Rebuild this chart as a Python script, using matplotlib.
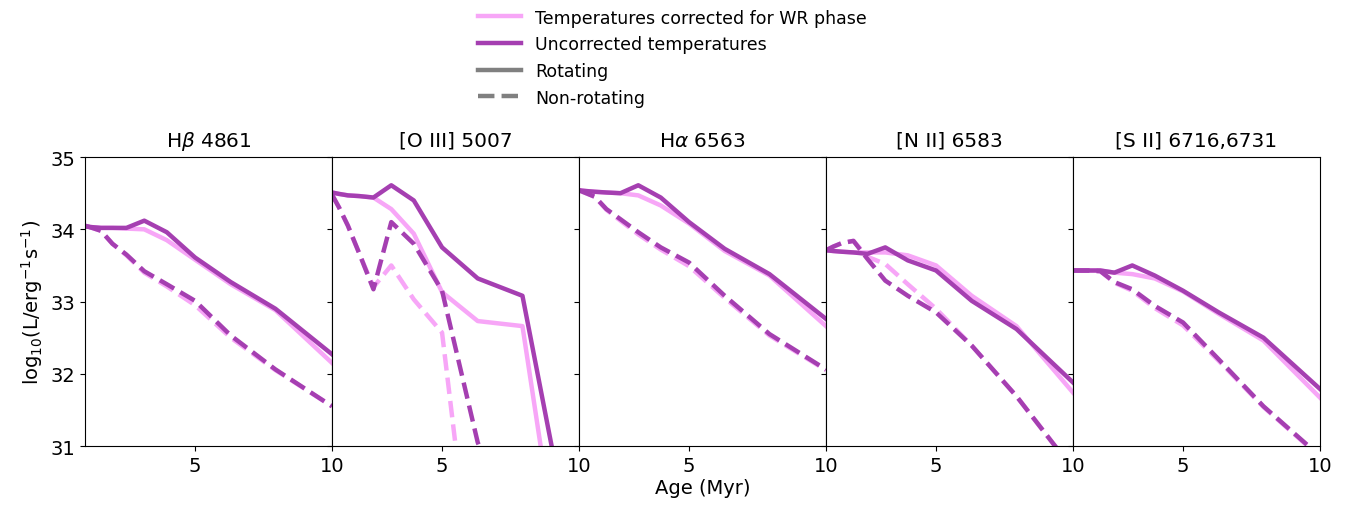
import matplotlib
matplotlib.use('Agg')
import matplotlib.pyplot as plt
from matplotlib.lines import Line2D

# ages (Myr)
ages = [1.0, 1.26, 1.58, 2.0, 2.51, 3.16, 3.98, 5.01, 6.31, 7.94, 10.0]

line_names = [r'H$\beta$ 4861', '[O III] 5007', r'H$\alpha$ 6563',
              '[N II] 6583', '[S II] 6716,6731']

# rotating, uncorrected
rot_unc = [
    [34.04, 34.03, 34.02, 34.02, 34.02, 34.12, 33.96, 33.61, 33.27, 32.90, 32.27],
    [34.51, 34.49, 34.47, 34.46, 34.44, 34.61, 34.40, 33.75, 33.32, 33.08, 29.05],
    [34.54, 34.53, 34.52, 34.51, 34.50, 34.61, 34.44, 34.10, 33.73, 33.38, 32.76],
    [33.71, 33.70, 33.69, 33.68, 33.66, 33.75, 33.57, 33.43, 33.01, 32.62, 31.88],
    [33.43, 33.43, 33.43, 33.43, 33.40, 33.50, 33.36, 33.15, 32.85, 32.50, 31.79],
]
# rotating, corrected for WR phase
rot_cor = [
    [34.04, 34.03, 34.02, 34.02, 34.01, 34.00, 33.85, 33.58, 33.24, 32.88, 32.15],
    [34.51, 34.49, 34.47, 34.46, 34.44, 34.28, 33.94, 33.13, 32.73, 32.66, 27.50],
    [34.54, 34.53, 34.52, 34.51, 34.50, 34.47, 34.33, 34.08, 33.70, 33.36, 32.66],
    [33.71, 33.70, 33.69, 33.68, 33.68, 33.68, 33.64, 33.50, 33.08, 32.66, 31.74],
    [33.43, 33.43, 33.43, 33.43, 33.40, 33.38, 33.32, 33.14, 32.83, 32.46, 31.67],
]
# non-rotating, uncorrected
nrot_unc = [
    [34.05, 34.02, 33.98, 33.80, 33.65, 33.42, 33.24, 33.01, 32.53, 32.06, 31.55],
    [34.48, 34.30, 34.05, 33.66, 33.17, 34.10, 33.80, 33.15, 31.05, 29.50, 28.50],
    [34.54, 34.50, 34.45, 34.28, 34.14, 33.96, 33.75, 33.54, 33.08, 32.55, 32.06],
    [33.71, 33.76, 33.81, 33.84, 33.59, 33.29, 33.08, 32.85, 32.39, 31.69, 30.68],
    [33.43, 33.43, 33.43, 33.42, 33.27, 33.17, 32.94, 32.71, 32.20, 31.55, 30.86],
]
# non-rotating, corrected for WR phase
nrot_cor = [
    [34.05, 34.02, 33.98, 33.80, 33.64, 33.40, 33.21, 32.95, 32.50, 32.05, 31.55],
    [34.48, 34.30, 34.05, 33.66, 33.20, 33.50, 33.03, 32.57, 28.45, 27.50, 27.00],
    [34.54, 34.50, 34.45, 34.27, 34.12, 33.93, 33.72, 33.49, 33.05, 32.53, 32.05],
    [33.71, 33.76, 33.81, 33.84, 33.62, 33.52, 33.24, 32.90, 32.39, 31.69, 30.68],
    [33.43, 33.43, 33.43, 33.42, 33.26, 33.15, 32.91, 32.67, 32.18, 31.54, 30.85],
]

dark = '#a53fb1'
pink = '#f7a6f7'
lw = 3.2

fig, axes = plt.subplots(1, 5, figsize=(13.45, 5.1), dpi=100, sharey=True)
fig.subplots_adjust(left=0.0632, right=0.9814, top=0.690, bottom=0.1235, wspace=0)

for i, ax in enumerate(axes):
    ax.plot(ages, rot_cor[i], color=pink, lw=lw, ls='-')
    ax.plot(ages, nrot_cor[i], color=pink, lw=lw, ls='--')
    ax.plot(ages, rot_unc[i], color=dark, lw=lw, ls='-')
    ax.plot(ages, nrot_unc[i], color=dark, lw=lw, ls='--')
    ax.set_xlim(1, 10)
    ax.set_ylim(31, 35)
    ax.set_xticks([5, 10])
    ax.set_yticks([31, 32, 33, 34, 35])
    ax.tick_params(labelsize=14)
    ax.set_title(line_names[i], fontsize=14.5, pad=8)

axes[0].set_ylabel(r'log$_{10}$(L/erg$^{-1}$s$^{-1}$)', fontsize=14)
axes[2].set_xlabel('Age (Myr)', fontsize=14, labelpad=2)

handles = [
    Line2D([], [], color=pink, lw=lw, ls='-'),
    Line2D([], [], color=dark, lw=lw, ls='-'),
    Line2D([], [], color='grey', lw=lw, ls='-'),
    Line2D([], [], color='grey', lw=lw, ls='--'),
]
labels = ['Temperatures corrected for WR phase', 'Uncorrected temperatures',
          'Rotating', 'Non-rotating']
fig.legend(handles, labels, loc='upper center', bbox_to_anchor=(0.5, 1.012),
           frameon=False, fontsize=12.5, handlelength=2.5, labelspacing=0.5)

plt.savefig('out.png', dpi=100)
